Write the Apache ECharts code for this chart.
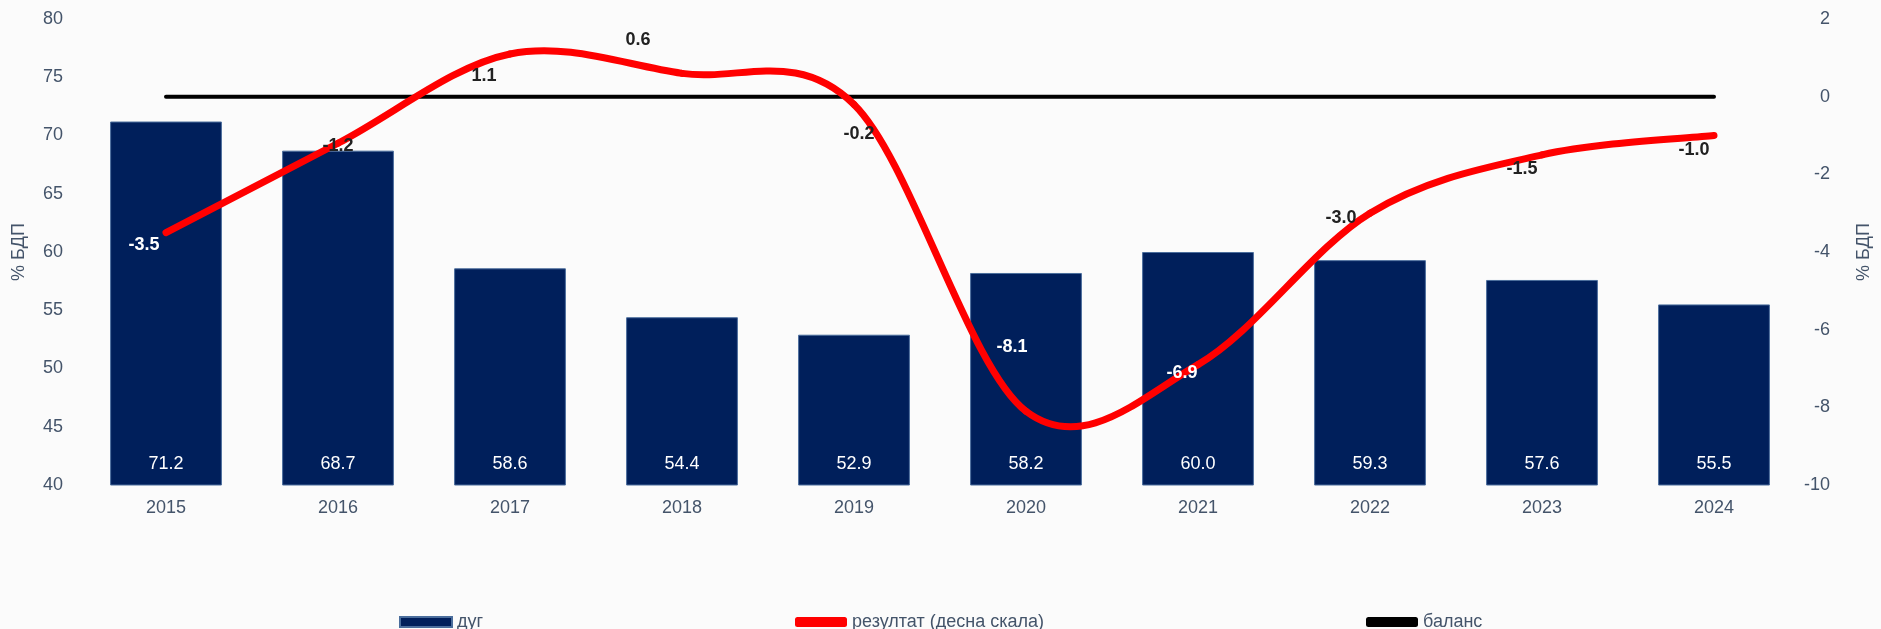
<!DOCTYPE html>
<html><head><meta charset="utf-8">
<script src="https://cdn.jsdelivr.net/npm/echarts@6/dist/echarts.min.js"></script>
<style>html,body{margin:0;padding:0;background:#fbfbfb}#c{width:1881px;height:629px}</style>
</head><body><div id="c"></div>
<script>
var years = ['2015','2016','2017','2018','2019','2020','2021','2022','2023','2024'];
var debt = [71.2, 68.7, 58.6, 54.4, 52.9, 58.2, 60.0, 59.3, 57.6, 55.5];
var result = [-3.5, -1.2, 1.1, 0.6, -0.2, -8.1, -6.9, -3.0, -1.5, -1.0];
var balance = [0, 0, 0, 0, 0, 0, 0, 0, 0, 0];
var leftTicks = [40, 45, 50, 55, 60, 65, 70, 75, 80];
var rightTicks = [-10, -8, -6, -4, -2, 0, 2];
var seriesNames = ['дуг', 'резултат (десна скала)', 'баланс'];

// label placement styling (Excel-like manual label positions)
var labelOffsets = [[-22,12],[0,3],[-26,22],[-44,-33],[5,30],[-14,-64],[-16,8],[-29,5],[-20,14],[-20,15]];
var labelColors = ['#fff','#222','#222','#222','#222','#fff','#fff','#222','#222','#222'];

var axisColor = '#44546a';
var font = '"Liberation Sans", Arial, sans-serif';
var RED = '#ff0000';

var resultData = result.map(function(v,i){
  return {value:v, label:{offset:labelOffsets[i], color:labelColors[i]}};
});
var curveData = result.map(function(v,i){ return [i, v]; });

// Excel-style smoothed line (Catmull-Rom bezier) drawn through the chart's scales
function renderCurve(params, api){
  var i = params.dataIndex, n = result.length;
  if (i >= n - 1) return null;
  function P(k){ k = Math.max(0, Math.min(n-1, k)); return api.coord([k, result[k]]); }
  var p0 = P(i-1), p1 = P(i), p2 = P(i+1), p3 = P(i+2);
  return {
    type:'bezierCurve',
    shape:{
      x1:p1[0], y1:p1[1], x2:p2[0], y2:p2[1],
      cpx1:p1[0] + (p2[0]-p0[0])/6, cpy1:p1[1] + (p2[1]-p0[1])/6,
      cpx2:p2[0] - (p3[0]-p1[0])/6, cpy2:p2[1] - (p3[1]-p1[1])/6
    },
    style:{stroke:RED, lineWidth:7, fill:null, lineCap:'round'}
  };
}

function legendAt(left, item){
  return {left:left, top:608, itemWidth:52, itemHeight:10, itemGap:0,
    textStyle:{color:axisColor,fontSize:18,fontFamily:font}, data:[item]};
}

var chart = echarts.init(document.getElementById('c'));
chart.setOption({
  backgroundColor:'#fbfbfb',
  animation:false,
  grid:{left:80,right:76,top:19,bottom:144},
  legend:[
    legendAt(394, {name:seriesNames[0],icon:'rect'}),
    legendAt(790, {name:seriesNames[1],icon:'roundRect',itemStyle:{color:RED,opacity:1}}),
    legendAt(1361,{name:seriesNames[2],icon:'roundRect',itemStyle:{color:'#000'}})
  ],
  xAxis:{type:'category',data:years,
    axisLine:{show:false},axisTick:{show:false},
    axisLabel:{color:axisColor,fontSize:18,fontFamily:font,margin:14}},
  yAxis:[
    {type:'value',min:leftTicks[0],max:leftTicks[leftTicks.length-1],interval:5,
      name:'% БДП',nameLocation:'middle',nameGap:52,
      nameTextStyle:{color:axisColor,fontSize:18,fontFamily:font},
      splitLine:{show:false},axisLine:{show:false},axisTick:{show:false},
      axisLabel:{color:axisColor,fontSize:18,margin:17,fontFamily:font}},
    {type:'value',min:rightTicks[0],max:rightTicks[rightTicks.length-1],interval:2,position:'right',
      name:'% БДП',nameLocation:'middle',nameGap:55,
      nameTextStyle:{color:axisColor,fontSize:18,fontFamily:font},
      splitLine:{show:false},axisLine:{show:false},axisTick:{show:false},
      axisLabel:{color:axisColor,fontSize:18,margin:30,align:'right',fontFamily:font}}
  ],
  series:[
    {name:seriesNames[0],type:'bar',data:debt,barWidth:'65%',yAxisIndex:0,
      itemStyle:{color:'#001f5b',borderColor:'#4a6d9c',borderWidth:1},
      label:{show:true,position:'insideBottom',distance:12,color:'#fff',fontSize:18,
        fontFamily:font,formatter:function(p){return p.value.toFixed(1);}},
      z:1},
    {name:seriesNames[2],type:'line',data:balance,yAxisIndex:1,symbol:'none',
      lineStyle:{color:'#000',width:4,cap:'round'},itemStyle:{color:'#000'},z:2},
    {name:'curve',type:'custom',data:curveData,yAxisIndex:1,encode:{x:0,y:1},
      renderItem:renderCurve,silent:true,z:3},
    {name:seriesNames[1],type:'line',data:resultData,yAxisIndex:1,
      symbol:'circle',symbolSize:2,showSymbol:true,
      lineStyle:{color:RED,width:6,opacity:0},itemStyle:{color:RED},
      label:{show:true,position:'inside',fontSize:18,fontWeight:'bold',fontFamily:font,
        formatter:function(p){return p.value.toFixed(1);}},
      z:4}
  ]
});
</script></body></html>
